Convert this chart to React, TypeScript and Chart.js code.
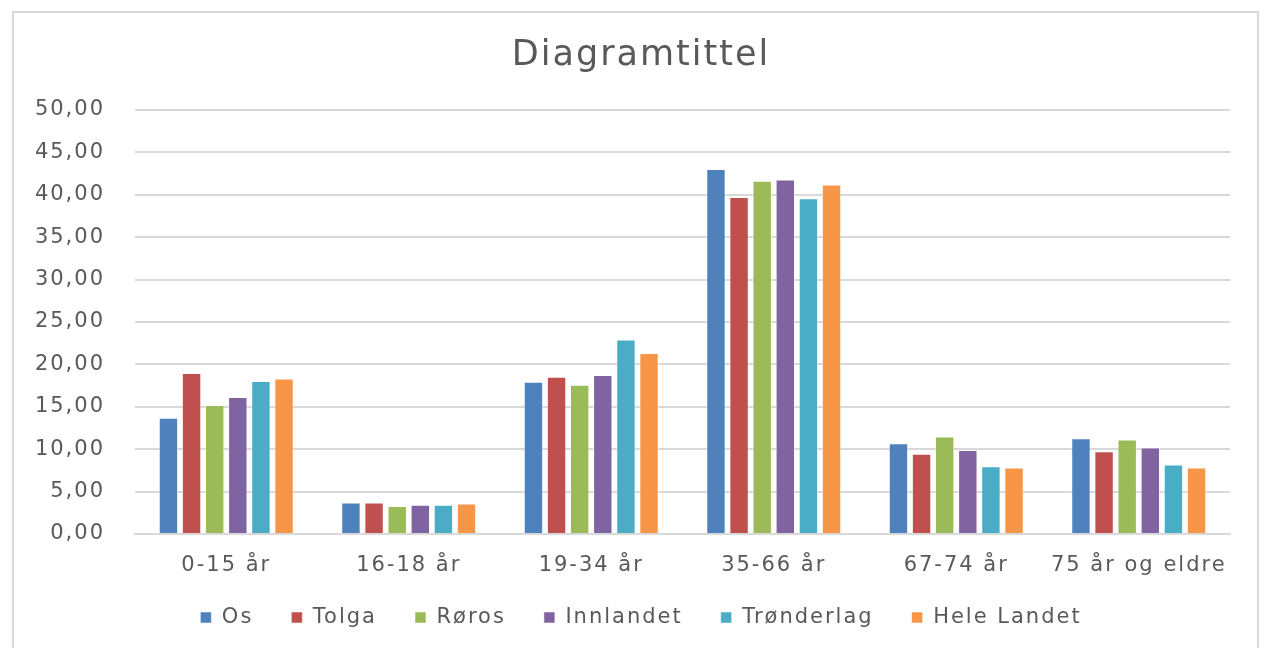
import React, { useEffect, useRef } from "react";
import { Chart, registerables } from "chart.js";

Chart.register(...registerables);

const categories = ["0-15 år", "16-18 år", "19-34 år", "35-66 år", "67-74 år", "75 år og eldre"];
const seriesNames = ["Os", "Tolga", "Røros", "Innlandet", "Trønderlag", "Hele Landet"];
const os = [13.7, 3.7, 17.95, 43.05, 10.7, 11.3];
const tolga = [19.0, 3.7, 18.55, 39.75, 9.45, 9.75];
const roros = [15.2, 3.3, 17.6, 41.65, 11.5, 11.15];
const innlandet = [16.15, 3.45, 18.75, 41.8, 9.9, 10.2];
const trondelag = [18.05, 3.45, 22.95, 39.6, 8.0, 8.2];
const heleLandet = [18.35, 3.6, 21.35, 41.2, 7.85, 7.85];
const colors = ["#4F81BD", "#C0504D", "#9BBB59", "#8064A2", "#4BACC6", "#F79646"];

const FONT = "'DejaVu Sans', sans-serif";

const spacingPlugin = {
  id: "letterSpacing",
  beforeUpdate(chart: any) { (chart.ctx as any).letterSpacing = "2px"; },
  beforeDraw(chart: any) { (chart.ctx as any).letterSpacing = "2px"; },
};

const noClip = (s: any) => { s._computeLabelArea = () => undefined; };

export default function App() {
  const ref = useRef<HTMLCanvasElement | null>(null);
  useEffect(() => {
    if (!ref.current) return;
    const values = [os, tolga, roros, innlandet, trondelag, heleLandet];
    const chart = new Chart(ref.current, {
      type: "bar",
      data: {
        labels: categories,
        datasets: seriesNames.map((n, i) => ({
          label: n,
          data: values[i],
          backgroundColor: colors[i],
          borderColor: "rgba(255,255,255,0.5)",
          borderWidth: 1,
          barPercentage: 0.84,
          categoryPercentage: 0.76,
        })),
      },
      plugins: [spacingPlugin],
      options: {
        animation: false,
        responsive: false,
        layout: { padding: { left: 52, right: 40, top: 35, bottom: 10 } },
        plugins: {
          title: {
            display: true,
            text: "Diagramtittel",
            color: "#595959",
            font: { family: FONT, size: 35, weight: "normal" },
            padding: { top: 0, bottom: 33 },
          },
          legend: {
            position: "bottom",
            labels: {
              boxWidth: 11,
              boxHeight: 11,
              padding: 38,
              color: "#595959",
              font: { family: FONT, size: 21 },
            },
          },
          tooltip: { enabled: false },
        },
        scales: {
          x: {
            afterFit: (s: any) => { s.height = 35; noClip(s); },
            grid: { display: false, drawTicks: false },
            border: { color: "#d9d9d9", width: 2 },
            ticks: { color: "#595959", font: { family: FONT, size: 21 }, padding: 19 },
          },
          y: {
            min: 0,
            max: 50,
            afterFit: (s: any) => { s.width = 83; noClip(s); },
            grid: { color: "#d9d9d9", lineWidth: 2, drawTicks: false },
            border: { display: false },
            ticks: {
              stepSize: 5,
              padding: 30,
              color: "#595959",
              font: { family: FONT, size: 21 },
              callback: (v: any) => Number(v).toFixed(2).replace(".", ","),
            },
          },
        },
      },
    });
    return () => chart.destroy();
  }, []);
  return (
    <div style={{ position: "fixed", left: 0, top: 0, width: 1270, height: 648, background: "#fff" }}>
      <div style={{ position: "absolute", left: 12, top: 11, width: 1243, height: 660, border: "2px solid #d9d9d9" }} />
      <canvas ref={ref} width={1270} height={648} style={{ position: "absolute", left: 0, top: 0 }} />
    </div>
  );
}
